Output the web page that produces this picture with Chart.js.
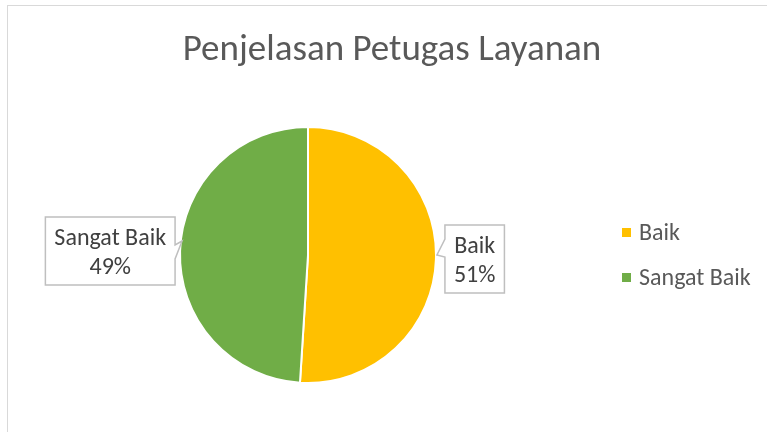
<!DOCTYPE html>
<html>
<head>
<meta charset="utf-8">
<script src="https://cdn.jsdelivr.net/npm/chart.js@4.4.1/dist/chart.umd.min.js"></script>
<style>
    html, body { margin: 0; padding: 0; background: #fff; }
    #wrap { position: relative; width: 767px; height: 432px; }
</style>
</head>
<body>
<div id="wrap"><canvas id="chart" width="767" height="432"></canvas></div>
<script>
const chartTitle = "Penjelasan Petugas Layanan"
const categories = ["Baik", "Sangat Baik"]
const values = [51, 49]
const sliceColors = ["#FFC000", "#70AD47"]

const fontFamily = "Carlito, Lato, 'Open Sans', sans-serif"
const textColor = "#595959"

function percentLabel(i) {
    const total = values.reduce((a, b) => a + b, 0)
    return Math.round(values[i] / total * 100) + "%"
}

// draws the frame, title, legend and the callout labels
const decorations = {
    id: "decorations",
    beforeDraw(chart) {
        const ctx = chart.ctx
        ctx.save()
        ctx.strokeStyle = "#d9d9d9"
        ctx.lineWidth = 1
        ctx.strokeRect(7.5, 5.5, 800, 500)
        ctx.restore()
    },
    afterDraw(chart) {
        const ctx = chart.ctx
        ctx.save()

        // title
        ctx.fillStyle = textColor
        ctx.font = "37px " + fontFamily
        ctx.textAlign = "center"
        ctx.textBaseline = "alphabetic"
        ctx.fillText(chartTitle, 392, 60)

        // legend
        ctx.font = "24px " + fontFamily
        ctx.textAlign = "left"
        ctx.textBaseline = "middle"
        categories.forEach((name, i) => {
            const y = 233 + i * 45
            ctx.fillStyle = sliceColors[i]
            ctx.fillRect(622, y - 5, 9, 9)
            ctx.fillStyle = textColor
            ctx.fillText(name, 639, y + 1)
        })

        // callouts
        const meta = chart.getDatasetMeta(0)
        meta.data.forEach((arc, i) => {
            const mid = (arc.startAngle + arc.endAngle) / 2
            const ax = arc.x + Math.cos(mid) * arc.outerRadius
            const ay = arc.y + Math.sin(mid) * arc.outerRadius
            const right = Math.cos(mid) >= 0
            const lines = [categories[i], percentLabel(i)]
            ctx.font = "24px " + fontFamily
            const textW = Math.max(...lines.map(l => ctx.measureText(l).width))
            const w = textW + 18
            const h = 68
            const x = right ? ax + 9 : ax - 5 - w
            const y = ay - h / 2
            const tipY = ay - 4

            ctx.beginPath()
            ctx.moveTo(x, y)
            ctx.lineTo(x + w, y)
            if (!right) {
                ctx.lineTo(x + w, tipY - 2)
                ctx.lineTo(ax + 2, tipY - 6)
                ctx.lineTo(x + w, tipY + 12)
            }
            ctx.lineTo(x + w, y + h)
            ctx.lineTo(x, y + h)
            if (right) {
                ctx.lineTo(x, tipY + 2)
                ctx.lineTo(ax + 1, tipY)
                ctx.lineTo(x, tipY - 16)
            }
            ctx.closePath()
            ctx.fillStyle = "#fff"
            ctx.fill()
            ctx.strokeStyle = "#bfbfbf"
            ctx.lineWidth = 1.5
            ctx.stroke()

            ctx.fillStyle = "#404040"
            ctx.textAlign = "center"
            ctx.fillText(lines[0], x + w / 2, y + 22)
            ctx.fillText(lines[1], x + w / 2, y + 51)
        })
        ctx.restore()
    }
}

new Chart(document.getElementById("chart"), {
    type: "pie",
    data: {
        labels: categories,
        datasets: [
            {
                data: values,
                backgroundColor: sliceColors,
                borderColor: "#ffffff",
                borderWidth: 2
            }
        ]
    },
    options: {
        responsive: false,
        animation: false,
        layout: { padding: { left: 179, right: 330, top: 126, bottom: 48 } },
        plugins: {
            legend: { display: false },
            title: { display: false },
            tooltip: { enabled: false }
        }
    },
    plugins: [decorations]
})
</script>
</body>
</html>
